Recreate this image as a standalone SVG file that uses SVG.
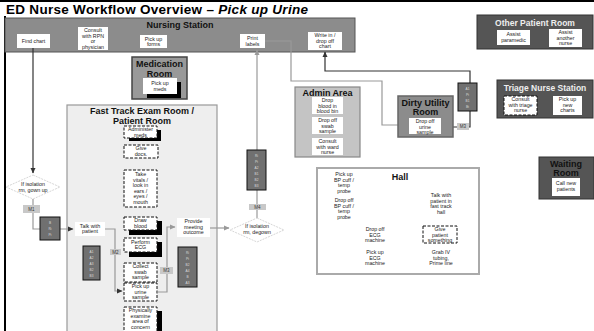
<svg xmlns="http://www.w3.org/2000/svg" width="594" height="331" viewBox="0 0 594 331">
<defs>
<marker id="arrD" markerWidth="6" markerHeight="6" refX="5" refY="3" orient="auto" markerUnits="userSpaceOnUse"><path d="M0,0.5 L5.5,3 L0,5.5 z" fill="#333"/></marker>
<marker id="arrG" markerWidth="6" markerHeight="6" refX="5" refY="3" orient="auto" markerUnits="userSpaceOnUse"><path d="M0,0.5 L5.5,3 L0,5.5 z" fill="#999"/></marker>
</defs>
<style>
text{font-family:"Liberation Sans",Arial,sans-serif}
.t{font-size:5.3px;fill:#222;text-anchor:middle}
.h{font-size:9px;font-weight:bold;text-anchor:middle;fill:#111}
.hw{font-size:8.5px;font-weight:bold;text-anchor:middle;fill:#eee}
.box{fill:#fff}
.dash{fill:#fff;stroke:#111;stroke-width:1;stroke-dasharray:3,1.5}
.sh{fill:#000}
.mini{fill:#707070;stroke:#111;stroke-width:1}
.mt{font-size:3.2px;fill:#ddd;text-anchor:middle}
.m{fill:#c8c8c8}
.ml{font-size:4.5px;fill:#333;text-anchor:middle}
.dia{fill:#fff;stroke:#ccc;stroke-width:0.8;stroke-dasharray:2,1}
.dk{fill:#555;stroke:#333;stroke-width:1}
.cg{fill:none;stroke:#999;stroke-width:1.2}
.cd{fill:none;stroke:#333;stroke-width:1.2}
</style>
<rect width="594" height="331" fill="#fff"/>
<g id="frame">
<rect x="0" y="0" width="594" height="2" fill="#000"/>
<rect x="4" y="16" width="2" height="315" fill="#000"/>
<text x="6" y="13.5" font-size="13.5" font-weight="bold" fill="#000" textLength="302" lengthAdjust="spacing">ED Nurse Workflow Overview – <tspan font-style="italic">Pick up Urine</tspan></text>
</g>

<g id="nursing-station">
<rect x="5" y="18" width="350" height="34" fill="#8c8c8c" stroke="#555" stroke-width="1"/>
<text class="h" x="180" y="28">Nursing Station</text>
</g>
<g id="find-chart"><rect class="box" x="17" y="34" width="33" height="14"/><text class="t" x="33.5" y="43">Find chart</text></g>
<g id="consult-rpn"><rect class="box" x="78" y="27" width="30" height="23"/><text class="t" x="93" y="32">Consult</text><text class="t" x="93" y="37.5">with RPN</text><text class="t" x="93" y="43">or</text><text class="t" x="93" y="48.5">physician</text></g>
<g id="pick-up-forms"><rect class="box" x="140" y="35" width="27" height="13"/><text class="t" x="153.5" y="40.5">Pick up</text><text class="t" x="153.5" y="46">forms</text></g>
<g id="print-labels"><rect class="box" x="240" y="34" width="25" height="14"/><text class="t" x="252.5" y="40">Print</text><text class="t" x="252.5" y="45.5">labels</text></g>
<g id="write-chart"><rect class="box" x="308" y="32" width="34" height="18"/><text class="t" x="325" y="37">Write in /</text><text class="t" x="325" y="42.5">drop off</text><text class="t" x="325" y="48">chart</text></g>

<g id="medication-room">
<rect x="132" y="57" width="55" height="42" fill="#999" stroke="#444" stroke-width="1.5"/>
<text class="h" x="159.5" y="67">Medication</text><text class="h" x="159.5" y="77">Room</text>
<rect class="sh" x="147" y="82" width="34" height="16"/>
<rect class="box" x="143" y="78" width="34" height="16"/>
<text class="t" x="160" y="85">Pick up</text><text class="t" x="160" y="91">meds</text>
</g>

<g id="fast-track">
<rect x="67" y="105" width="150" height="232" fill="#eee" stroke="#999" stroke-width="1.2"/>
<text class="h" x="142" y="114">Fast Track Exam Room /</text><text class="h" x="142" y="124">Patient Room</text>
</g>
<g id="administer-meds"><rect class="sh" x="129" y="130" width="32" height="11"/><rect class="dash" x="124" y="126" width="33" height="12"/><text class="t" x="140.5" y="131">Administer</text><text class="t" x="140.5" y="136.5">meds</text></g>
<g id="give-docs"><rect class="dash" x="124" y="145" width="34" height="13"/><text class="t" x="141" y="150">Give</text><text class="t" x="141" y="155.5">docs.</text></g>
<g id="take-vitals"><rect class="dash" x="124" y="170" width="33" height="37"/><text class="t" x="140.5" y="176">Take</text><text class="t" x="140.5" y="181.5">vitals /</text><text class="t" x="140.5" y="187">look in</text><text class="t" x="140.5" y="192.5">ears /</text><text class="t" x="140.5" y="198">eyes /</text><text class="t" x="140.5" y="203.5">mouth</text></g>
<g id="draw-blood"><rect class="sh" x="129" y="221" width="33" height="14"/><rect class="dash" x="124" y="217" width="33" height="13"/><text class="t" x="140.5" y="222">Draw</text><text class="t" x="140.5" y="227.5">blood</text></g>
<g id="perform-ecg"><rect class="sh" x="129" y="242" width="33" height="15"/><rect class="dash" x="124" y="238" width="33" height="14"/><text class="t" x="140.5" y="243.5">Perform</text><text class="t" x="140.5" y="249">ECG</text></g>
<g id="collect-swab"><rect class="dash" x="124" y="263" width="33" height="19"/><text class="t" x="140.5" y="268">Collect</text><text class="t" x="140.5" y="273.5">swab</text><text class="t" x="140.5" y="279">sample</text></g>
<g id="pick-up-urine"><rect class="dash" x="124" y="283" width="33" height="18"/><text class="t" x="140.5" y="288">Pick up</text><text class="t" x="140.5" y="293.5">urine</text><text class="t" x="140.5" y="299">sample</text></g>
<g id="physically-examine"><rect class="sh" x="129" y="311" width="33" height="25"/><rect class="dash" x="124" y="307" width="33" height="28"/><text class="t" x="140.5" y="312">Physically</text><text class="t" x="140.5" y="317.5">examine</text><text class="t" x="140.5" y="323">area of</text><text class="t" x="140.5" y="328.5">concern</text></g>
<g id="talk-patient"><rect class="box" x="75" y="222" width="30" height="14"/><text class="t" x="90" y="227.5">Talk with</text><text class="t" x="90" y="233">patient</text></g>
<g id="provide-outcome"><rect class="box" x="177" y="218" width="33" height="19"/><text class="t" x="193.5" y="223">Provide</text><text class="t" x="193.5" y="228.5">meeting</text><text class="t" x="193.5" y="234">outcome</text></g>

<g id="connectors">
<path class="cd" d="M33,48 V173" marker-end="url(#arrD)" stroke="#555"/>
<path class="cg" d="M33,199 V229 H73" marker-end="url(#arrD)"/>
<path class="cg" d="M105,229 H115 V291 H122" marker-end="url(#arrD)"/>
<path class="cg" d="M157,292 H167 V227 H175" marker-end="url(#arrG)"/>
<path class="cg" d="M210,228 H229" marker-end="url(#arrG)"/>
<path class="cg" d="M257,218 V50" marker-end="url(#arrG)"/>
<path class="cg" d="M265,41 H291 V81 H382 V125 H398"/>
<path class="cd" d="M441,127 H470 V71 H325 V52" marker-end="url(#arrD)"/>
</g>

<g id="decision-gown"><path class="dia" d="M33,175 L60,187 L33,199 L6,187 Z"/><text class="t" x="33" y="186">If isolation</text><text class="t" x="33" y="192">rm, gown up</text></g>
<g id="decision-degown"><path class="dia" d="M257,218 L284,230 L257,242 L230,230 Z"/><text class="t" x="257" y="228">If isolation</text><text class="t" x="257" y="234">rm, degown</text></g>

<g id="m1"><rect class="m" x="23" y="205" width="17" height="8"/><text class="ml" x="31.5" y="211">M1</text>
<rect class="mini" x="40" y="217" width="20" height="23"/><text class="mt" x="50" y="224">B</text><text class="mt" x="50" y="230">Ri</text><text class="mt" x="50" y="236">Pt</text></g>
<g id="m2"><rect class="m" x="110" y="249" width="11" height="6"/><text class="ml" x="115.5" y="253.8">M2</text>
<rect class="mini" x="83" y="246" width="17" height="34"/><text class="mt" x="91.5" y="253">A1</text><text class="mt" x="91.5" y="259">A2</text><text class="mt" x="91.5" y="265">A3</text><text class="mt" x="91.5" y="271">B2</text><text class="mt" x="91.5" y="277">B3</text></g>
<g id="m3"><rect class="m" x="160" y="267" width="13" height="7"/><text class="ml" x="166.5" y="272.3">M3</text>
<rect class="mini" x="178" y="247" width="19" height="40"/><text class="mt" x="187.5" y="254">Ri</text><text class="mt" x="187.5" y="260">Pt</text><text class="mt" x="187.5" y="266">B2</text><text class="mt" x="187.5" y="272">A4</text><text class="mt" x="187.5" y="278">B</text><text class="mt" x="187.5" y="284">A3</text></g>
<g id="m4"><rect class="m" x="249" y="204" width="17" height="6"/><text class="ml" x="257.5" y="208.7">M4</text>
<rect class="mini" x="247" y="150" width="19" height="40"/><text class="mt" x="256.5" y="157">Ri</text><text class="mt" x="256.5" y="163">Pt</text><text class="mt" x="256.5" y="169">A2</text><text class="mt" x="256.5" y="175">B1</text><text class="mt" x="256.5" y="181">B2</text><text class="mt" x="256.5" y="187">B3</text></g>
<g id="m3b"><rect class="m" x="457" y="123" width="12" height="7"/><text class="ml" x="463" y="128.3">M3</text>
<rect class="mini" x="458" y="83" width="19" height="28"/><text class="mt" x="467.5" y="90">A1</text><text class="mt" x="467.5" y="96">Pt</text><text class="mt" x="467.5" y="102">B1</text><text class="mt" x="467.5" y="108">Bt</text></g>

<g id="admin-area">
<rect x="295" y="87" width="65" height="70" fill="#c4c4c4" stroke="#888" stroke-width="1.2"/>
<text class="h" x="327.5" y="96">Admin Area</text>
<rect class="box" x="312" y="97" width="31" height="17"/><text class="t" x="327.5" y="102">Drop</text><text class="t" x="327.5" y="107.5">blood in</text><text class="t" x="327.5" y="113">blood bin</text>
<rect class="box" x="312" y="117" width="31" height="17"/><text class="t" x="327.5" y="122">Drop off</text><text class="t" x="327.5" y="127.5">swab</text><text class="t" x="327.5" y="133">sample</text>
<rect class="box" x="312" y="138" width="31" height="17"/><text class="t" x="327.5" y="143">Consult</text><text class="t" x="327.5" y="148.5">with ward</text><text class="t" x="327.5" y="154">nurse</text>
</g>

<g id="dirty-utility">
<rect x="398" y="96" width="55" height="41" fill="#8c8c8c" stroke="#666" stroke-width="1.5"/>
<text class="h" x="425.5" y="106">Dirty Utility</text><text class="h" x="425.5" y="115">Room</text>
<rect class="box" x="409" y="118" width="32" height="16"/><text class="t" x="425" y="123">Drop off</text><text class="t" x="425" y="128.5">urine</text><text class="t" x="425" y="134">sample</text>
</g>

<g id="hall">
<rect x="317" y="168" width="162" height="106" fill="#fff" stroke="#aaa" stroke-width="2"/>
<text class="h" x="400" y="180">Hall</text>
<text class="t" x="344" y="176">Pick up</text><text class="t" x="344" y="181.5">BP cuff /</text><text class="t" x="344" y="187">temp</text><text class="t" x="344" y="192.5">probe</text>
<text class="t" x="344" y="202">Drop off</text><text class="t" x="344" y="207.5">BP cuff /</text><text class="t" x="344" y="213">temp</text><text class="t" x="344" y="218.5">probe</text>
<text class="t" x="375" y="231">Drop off</text><text class="t" x="375" y="236.5">ECG</text><text class="t" x="375" y="242">machine</text>
<text class="t" x="375" y="254">Pick up</text><text class="t" x="375" y="259.5">ECG</text><text class="t" x="375" y="265">machine</text>
<text class="t" x="441" y="197">Talk with</text><text class="t" x="441" y="202.5">patient in</text><text class="t" x="441" y="208">fast track</text><text class="t" x="441" y="213.5">hall</text>
<rect class="dash" x="423" y="226" width="34" height="17"/><text class="t" x="440" y="231">Give</text><text class="t" x="440" y="236.5">patient</text><text class="t" x="440" y="242">something</text>
<text class="t" x="441" y="254">Grab IV</text><text class="t" x="441" y="259.5">tubing,</text><text class="t" x="441" y="265">Prime line</text>
</g>

<g id="other-patient-room">
<rect class="dk" x="477" y="15" width="116" height="34"/>
<text class="hw" x="535" y="26">Other Patient Room</text>
<rect class="box" x="497" y="30" width="33" height="15"/><text class="t" x="513.5" y="36">Assist</text><text class="t" x="513.5" y="41.5">paramedic</text>
<rect class="box" x="549" y="29" width="33" height="18"/><text class="t" x="565.5" y="34">Assist</text><text class="t" x="565.5" y="39.5">another</text><text class="t" x="565.5" y="45">nurse</text>
</g>

<g id="triage-station">
<rect class="dk" x="497" y="80" width="96" height="38"/>
<text class="hw" x="545" y="91">Triage Nurse Station</text>
<rect class="dash" x="504" y="96" width="33" height="19"/><text class="t" x="520.5" y="101">Consult</text><text class="t" x="520.5" y="106.5">with triage</text><text class="t" x="520.5" y="112">nurse</text>
<rect class="box" x="553" y="96" width="29" height="19"/><text class="t" x="567.5" y="101">Pick up</text><text class="t" x="567.5" y="106.5">new</text><text class="t" x="567.5" y="112">charts</text>
</g>

<g id="waiting-room">
<rect class="dk" x="539" y="157" width="55" height="42"/>
<text class="h" x="566" y="167" fill="#222">Waiting</text><text class="h" x="566" y="176">Room</text>
<rect class="box" x="552" y="178" width="28" height="18"/><text class="t" x="566" y="185">Call new</text><text class="t" x="566" y="191">patients</text>
</g>
</svg>
